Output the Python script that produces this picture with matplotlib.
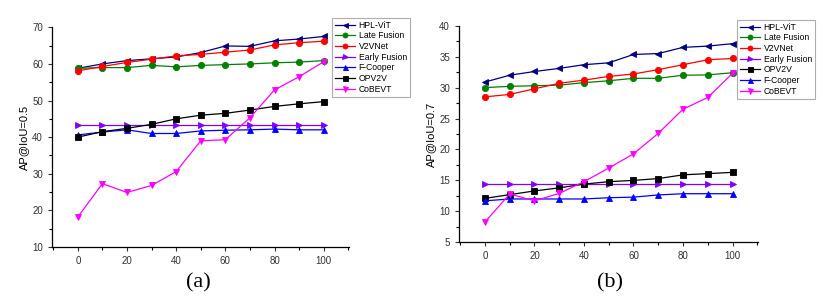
import matplotlib
matplotlib.use("Agg")
import matplotlib.pyplot as plt
from matplotlib.ticker import MultipleLocator

plt.rcParams['font.family'] = ['Liberation Sans', 'DejaVu Sans']

x = [0, 10, 20, 30, 40, 50, 60, 70, 80, 90, 100]

# (a) AP@IoU=0.5
hpl_a = [58.8, 60.0, 60.9, 61.4, 61.9, 63.1, 64.9, 64.8, 66.3, 66.8, 67.5]
late_a = [58.8, 59.0, 59.0, 59.6, 59.2, 59.6, 59.8, 60.0, 60.3, 60.5, 60.9]
v2vnet_a = [58.1, 59.3, 60.4, 61.3, 62.2, 62.6, 63.2, 63.8, 65.2, 65.8, 66.2]
early_a = [43.3, 43.3, 43.3, 43.3, 43.3, 43.3, 43.3, 43.3, 43.3, 43.3, 43.3]
fcooper_a = [40.6, 41.4, 42.0, 41.0, 41.0, 41.7, 41.9, 42.0, 42.2, 42.0, 42.0]
opv2v_a = [40.0, 41.5, 42.4, 43.5, 45.0, 46.0, 46.5, 47.4, 48.4, 49.1, 49.7]
cobevt_a = [18.2, 27.3, 24.9, 26.8, 30.6, 39.0, 39.3, 45.3, 52.9, 56.5, 60.6]

# (b) AP@IoU=0.7
hpl_b = [30.9, 32.0, 32.6, 33.1, 33.7, 34.0, 35.35, 35.5, 36.5, 36.7, 37.1]
late_b = [30.0, 30.2, 30.3, 30.4, 30.8, 31.1, 31.5, 31.5, 32.0, 32.05, 32.4]
v2vnet_b = [28.5, 28.9, 29.8, 30.7, 31.2, 31.8, 32.2, 32.9, 33.7, 34.5, 34.7]
early_b = [14.35, 14.35, 14.35, 14.35, 14.35, 14.35, 14.35, 14.35, 14.35, 14.35, 14.35]
opv2v_b = [12.1, 12.7, 13.3, 13.8, 14.4, 14.8, 15.0, 15.3, 15.9, 16.1, 16.3]
fcooper_b = [11.7, 12.0, 12.0, 12.0, 12.0, 12.2, 12.3, 12.65, 12.85, 12.85, 12.85]
cobevt_b = [8.3, 12.8, 11.7, 12.9, 14.8, 17.0, 19.3, 22.6, 26.5, 28.4, 32.3]

styles = {
    "HPL-ViT": ("#000080", "<"),
    "Late Fusion": ("#008000", "o"),
    "V2VNet": ("#ff0000", "o"),
    "Early Fusion": ("#8000ff", ">"),
    "F-Cooper": ("#0000ff", "^"),
    "OPV2V": ("#000000", "s"),
    "CoBEVT": ("#ff00ff", "v"),
}

series_a = [("HPL-ViT", hpl_a), ("Late Fusion", late_a), ("V2VNet", v2vnet_a),
            ("Early Fusion", early_a), ("F-Cooper", fcooper_a), ("OPV2V", opv2v_a),
            ("CoBEVT", cobevt_a)]
series_b = [("HPL-ViT", hpl_b), ("Late Fusion", late_b), ("V2VNet", v2vnet_b),
            ("Early Fusion", early_b), ("OPV2V", opv2v_b), ("F-Cooper", fcooper_b),
            ("CoBEVT", cobevt_b)]

fig = plt.figure(figsize=(8.27, 3.01), dpi=100)
W, H = 827.0, 301.0


def panel(rect, series, ylim, ystep, ylabel, tag, tag_x, leg_xy):
    ax = fig.add_axes(rect)
    for name, vals in series:
        c, m = styles[name]
        ax.plot(x, vals, color=c, marker=m, markersize=4.5, linewidth=0.9,
                markeredgewidth=0.6, label=name)
    ax.set_xlim(-10.5, 110.3)
    ax.set_ylim(*ylim)
    ax.xaxis.set_major_locator(MultipleLocator(20))
    ax.xaxis.set_minor_locator(MultipleLocator(10))
    ax.yaxis.set_major_locator(MultipleLocator(ystep))
    ax.yaxis.set_minor_locator(MultipleLocator(ystep / 2))
    for s in ["top", "right"]:
        ax.spines[s].set_visible(False)
    for s in ["left", "bottom"]:
        ax.spines[s].set_linewidth(0.9)
    ax.tick_params(which="major", direction="out", length=3, width=0.8, labelsize=7, colors="#333333")
    ax.tick_params(which="minor", direction="out", length=2, width=0.8)
    ax.set_ylabel(ylabel, fontsize=8, labelpad=2)
    leg = ax.legend(loc="upper left", bbox_to_anchor=(leg_xy[0] / W, 1 - leg_xy[1] / H),
                    bbox_transform=fig.transFigure, fontsize=6.2, frameon=True, fancybox=False,
                    handlelength=2.4, handletextpad=0.4, labelspacing=0.2,
                    borderpad=0.3, borderaxespad=0, markerscale=0.8)
    leg.get_frame().set_edgecolor("#999999")
    leg.get_frame().set_linewidth(0.8)
    fig.text(tag_x / W, 1 - 283 / H, tag, ha="center", va="center",
             fontsize=16, family="Liberation Serif")
    return ax


panel([52 / W, 1 - 247 / H, 297 / W, (247 - 27.3) / H], series_a, (10, 70), 10,
      "AP@IoU=0.5", "(a)", 198, (332, 18))
panel([459 / W, 1 - 242.3 / H, 299 / W, (242.3 - 25.7) / H], series_b, (5, 40), 5,
      "AP@IoU=0.7", "(b)", 610, (737, 20))

fig.savefig("out.png", dpi=100)
